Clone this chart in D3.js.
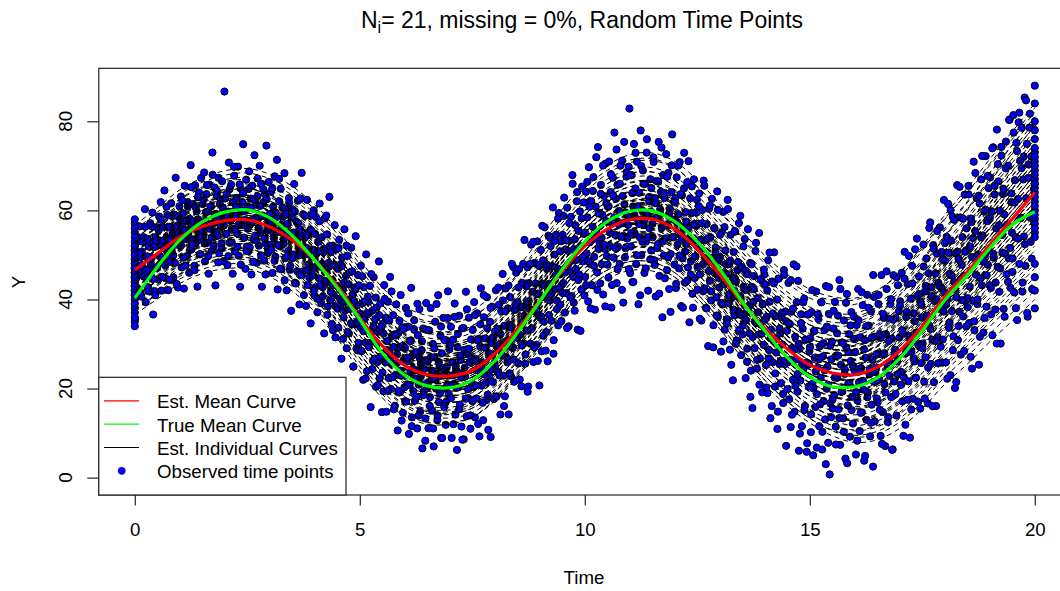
<!DOCTYPE html>
<html><head><meta charset="utf-8">
<script src="https://cdn.jsdelivr.net/npm/d3@7"></script>
<style>body{margin:0;background:#fff}svg{display:block}text{font-family:"Liberation Sans",Arial,sans-serif;fill:#000}</style>
</head><body><svg id="chart" width="1060" height="591"></svg>
<script>
const xTicks=[0,5,10,15,20];
const yTicks=[0,20,40,60,80];
const meanTimes=[0,0.5,1,1.5,2,2.5,3,3.5,4,4.5,5,5.5,6,6.5,7,7.5,8,8.5,9,9.5,10,10.5,11,11.5,12,12.5,13,13.5,14,14.5,15,15.5,16,16.5,17,17.5,18,18.5,19,19.5,20];
const estMean=[46.6,50.3,54.0,56.4,57.7,57.9,56.3,53.3,48.8,43.0,35.9,29.6,25.2,23.1,22.8,24.1,27.8,33.3,39.8,46.4,52.0,55.8,57.9,58.0,55.8,51.3,45.6,39.2,33.5,28.9,25.3,23.5,23.1,24.8,28.5,34.0,40.6,46.2,52.3,58.1,64.0];
const trueMean=[40.3,47.3,53.3,57.4,59.6,60.1,58.3,54.3,48.8,42.6,35.5,28.0,23.0,20.6,20.2,21.9,26.2,32.5,39.6,46.8,53.0,57.5,59.8,59.9,57.5,53.0,46.8,39.5,33.0,27.0,22.6,20.4,20.4,22.4,26.8,33.0,39.8,45.4,51.5,56.8,59.7];
const knotTimes=[0,5,10,15,20];
const curveOffsets=[
[-9,-11,-10,-12,-22],[8,11,13,15,19],[-4,-5,-4,-5,-8],[3,4,5,6,9],[0,1,1,2,3],
[-2,-2,-3,-3,-5],[6,8,9,11,15],[-6,-7,-7,-9,-14],[2,2,2,3,5],[-1,0,0,-1,-2],
[5,6,6,8,12],[-7,-9,-8,-10,-17],[1,3,4,4,6],[-3,-4,-5,-6,-10],[4,3,2,3,4],
[-5,-3,-2,-2,-3],[9,12,12,16,20],[-8,-10,-11,-13,-24],[2,5,7,9,14],[-3,-1,0,1,2],
[7,7,8,9,11],[-10,-12,-9,-11,-18],[1,-1,-2,-3,-6],[0,2,3,5,8],[4,6,8,10,16],
[-4,-6,-6,-8,-13],[3,1,1,0,-1],[-2,0,2,3,6],[6,5,5,6,8],[-6,-5,-4,-5,-7],
[1,2,0,1,1],[-1,-3,-4,-4,-7],[5,9,10,12,17],[-5,-8,-9,-11,-19],[2,0,-1,-1,-3],
[0,-2,-1,0,1],[8,10,10,12,15],[-7,-6,-6,-7,-11],[3,5,4,6,10],[-2,-1,1,-2,-4],
[10,13,14,17,18],[-9,-8,-7,-9,-15],[1,1,3,2,4],[-3,-2,-2,-3,-6],[4,7,6,7,12],
[0,0,-1,-2,-3],[-4,-3,-3,-4,-9],[6,4,3,4,7],[2,3,5,7,11],[-1,-2,0,0,0],
[1,1,2,2,4],[-1,-1,-2,-2,-4],[2,3,3,4,7],[-2,-3,-3,-4,-8],[0,1,2,3,5],
[0,-1,-1,-2,-5],[3,2,3,4,6],[-3,-2,-1,-1,-2],[1,0,1,2,2],[-1,1,1,0,-1],
[4,5,5,7,10],[-4,-5,-5,-6,-12],[2,1,0,-1,-2],[-2,-1,0,2,3],[5,4,4,5,7],
[-5,-6,-6,-7,-10],[1,2,3,5,9],[-1,-2,-3,-5,-9],[3,4,3,3,4],[-3,-3,-4,-4,-5],
[0,0,1,1,2],[0,0,-1,-1,-1],[6,7,7,9,13],[-6,-8,-8,-9,-16],[2,2,1,1,1],
[-2,-2,-1,-1,-1],[7,9,11,13,17],[-8,-9,-10,-12,-20],[4,3,4,5,8],[-4,-4,-3,-3,-6]];
const binWidth=0.5;
const residualBins=[
[-11,4,-2,7,0,-5,9,2,-7,3,-1,6,-3,12,-9,1,5,-6,3,-2,8,-4,0,10,-13,2,-8,4,-3,6],
[3,-6,8,-1,11,-9,1,5,-3,13,0,-7,2,7,-10,0,4,-4,9,-2,2,-8,6,-5,14,-1,3,-11,1,7],
[-2,9,-7,2,5,-12,11,-1,3,-5,7,0,-9,3,15,-4,1,6,-2,-8,10,-3,4,-13,2,8,-6,0,11,-3],
[5,-2,12,-8,1,7,-4,3,-11,9,-1,4,-6,16,0,-3,8,-14,2,6,-3,10,-7,4,-1,-5,9,1,-9,29],
[5,-3,6,-10,2,13,-5,0,8,-2,-12,4,10,-7,1,5,-3,12,-8,3,-15,7,-1,4,17,-4,2,-11,9,-6],
[3,-7,11,-1,5,-12,8,0,-4,15,-3,4,-9,6,1,-5,13,-2,9,-14,2,5,-8,7,-4,18,-1,-6,10,0],
[-4,8,1,-10,5,-2,12,-6,3,16,-13,0,7,-3,10,-8,2,4,-1,14,-5,6,-12,3,-3,9,-7,1,-16,5],
[7,-3,13,-9,2,5,-6,10,0,-13,4,-1,17,-5,8,-10,3,1,-4,12,-7,5,-2,9,-15,6,-4,2,11,-8],
[-6,10,2,-11,5,-3,14,0,-8,7,-4,4,-14,12,1,-2,9,-7,3,18,-5,6,-10,-1,8,-3,13,-12,4,0],
[4,-9,11,-2,6,-15,8,1,-5,15,-3,5,-11,10,0,-7,7,-1,13,-4,3,-13,5,-3,17,-8,2,9,-6,-1],
[-2,12,-7,4,-13,8,1,-4,16,-10,3,6,-3,10,-17,0,5,-6,13,-1,4,-11,7,-5,2,18,-8,9,-3,-15],
[5,-10,14,-3,7,-14,2,11,-6,0,17,-8,4,-2,9,-12,5,-4,12,-1,-16,6,3,-7,15,-3,8,-11,1,-5],
[-8,13,1,-4,9,-15,6,-1,18,-11,3,-5,11,-7,4,0,-13,8,-3,14,-9,2,5,-17,10,-4,3,-10,16,-2],
[3,-12,10,-5,15,-1,-8,7,-16,4,12,-3,0,-10,18,-6,2,9,-14,5,-3,13,-7,1,-11,8,-2,19,-4,6],
[-5,11,-14,3,8,-2,16,-9,1,-17,6,-3,13,-7,3,-12,10,0,-15,5,-1,18,-10,4,-6,12,2,-13,7,-3],
[9,-4,15,-11,2,-7,12,-1,6,-16,4,17,-5,0,-13,10,-3,5,-9,14,-8,1,-4,8,-18,3,11,-6,4,-2],
[-3,14,-10,5,-5,10,1,-15,8,-2,16,-7,4,-12,12,0,-4,7,-17,3,9,-9,2,-3,15,-6,5,-11,13,-1],
[6,-8,13,-2,4,-14,9,0,-5,18,-10,3,-3,11,-16,7,1,-7,15,-4,4,-12,10,-1,5,-9,14,2,-3,-19],
[-4,11,-12,3,8,-6,15,-1,-9,5,-16,12,1,-3,9,-8,4,17,-13,6,-2,10,-5,2,-11,14,0,-7,7,-3],
[8,-3,16,-10,4,-6,13,0,-14,5,-2,10,-8,19,-4,2,-12,7,-1,12,-17,5,-5,9,1,-9,14,-3,3,-11],
[-7,12,-2,6,-13,17,0,-5,9,-10,3,14,-4,-16,7,1,-8,20,-3,5,-11,11,-1,4,-14,8,-4,15,2,-6],
[5,-11,15,-4,8,-18,1,11,-7,21,-2,6,-13,9,-5,3,-9,13,0,-15,6,-3,18,-8,2,10,-4,-1,12,25],
[-12,-6,10,-14,3,17,-3,7,-10,13,0,-19,6,-4,20,-8,2,11,-1,-12,8,-5,15,1,-16,5,-2,9,-7,4],
[-4,14,-9,5,-17,9,1,-5,18,-12,3,7,-1,-21,11,-7,6,-3,16,-10,0,12,-14,4,-6,8,21,-2,2,-8],
[7,-13,12,-3,4,-8,16,0,-16,9,-5,2,19,-10,6,-1,13,-6,3,-18,10,-4,7,-11,1,15,-7,-2,5,11],
[-9,6,13,-5,1,-15,10,-2,17,-7,4,-11,8,0,-19,12,-4,6,-8,15,2,-13,9,-1,5,-6,18,-10,3,-3],
[4,-17,10,-6,15,-1,-11,7,2,-8,19,-4,5,-14,12,-2,0,-20,9,-5,14,3,-10,6,-3,17,-7,1,-12,8],
[-5,13,-2,8,-16,4,-9,18,1,-5,11,-13,6,-21,3,9,-7,15,-1,-11,5,-3,20,-8,0,10,-15,5,-4,12],
[10,-8,3,-14,16,-4,7,-19,1,12,-6,-1,19,-11,5,-3,9,-16,14,-5,2,-9,6,0,-13,17,-4,8,-22,4],
[-3,15,-11,6,-17,9,1,-6,20,-13,4,-1,12,-8,17,-21,2,-5,10,-15,7,-2,14,-10,5,0,-18,11,-5,3],
[6,-15,12,-4,-20,8,2,-9,17,-6,0,11,-13,5,-2,15,-18,3,-7,9,-11,19,-4,1,-16,13,-23,6,-10,7],
[-8,10,-5,16,-12,4,-1,13,-8,21,-16,2,7,-4,-10,12,0,-19,6,18,-7,-2,9,-14,3,14,-5,-11,8,1],
[5,-18,11,-6,19,-2,-13,8,1,-9,15,-4,-20,7,3,-11,17,-5,10,-1,-15,13,-8,2,21,-3,-12,7,0,-7],
[-8,14,-3,7,-16,20,2,-11,10,-5,-19,6,16,-1,-13,9,-4,12,-9,4,-21,18,-6,1,8,-14,-2,15,-5,3],
[11,-5,17,-12,3,-7,21,-18,6,-1,13,-9,1,-22,9,-3,16,-14,5,-6,19,-10,0,8,-16,12,-4,6,-8,2],
[-4,18,-13,7,-8,14,0,-19,10,-2,21,-11,4,-6,15,-16,2,8,-22,12,-7,5,-1,17,-10,3,-14,9,-3,1],
[8,-15,13,-1,20,-8,4,-19,11,-5,16,-11,1,-23,7,-3,22,-13,5,-7,14,-17,3,9,-9,0,18,-6,-12,5],
[-6,19,-12,5,-20,10,2,-8,23,-15,7,-3,14,-10,1,-24,12,-5,17,-7,4,-18,9,-1,21,-13,6,-4,13,-9],
[15,-10,7,-21,21,-4,10,-16,2,24,-7,12,-13,5,-25,17,-1,8,-18,3,-6,19,-11,0,13,-8,23,-15,6,-3],
[-9,23,-17,8,-5,16,-24,3,20,-12,11,-2,18,-19,6,-7,24,-14,1,13,-26,8,-4,19,-10,9,-21,15,-6,2]];
const residualBinsB=[
[2,-4,6,-1,3,-6,0,5,-3,8,-2,1,-7,4,-1,7,-5,2,-9,3],
[-3,5,-1,7,-6,2,0,-4,9,-2,4,-8,1,6,-3,3,-1,-10,5,0],
[4,-2,8,-5,1,-7,3,6,-1,-4,10,-3,2,-9,5,0,7,-2,-6,1],
[-1,6,-4,3,9,-7,0,4,-3,11,-5,2,-2,7,-9,1,5,-6,3,-1],
[5,-3,1,-8,7,0,-5,4,12,-2,3,-6,-1,8,-10,2,6,-4,0,-7],
[-2,7,-6,3,0,-9,5,1,-4,10,-1,4,-7,2,8,-3,-11,6,-5,1],
[3,-5,9,-1,-7,4,0,-3,12,-8,2,6,-2,-10,5,1,-4,8,-6,0],
[-4,2,7,-9,1,5,-2,11,-6,3,-1,8,-12,4,0,-5,6,-3,10,-7],
[6,-1,-8,3,10,-4,1,-6,5,-2,13,-9,2,7,-3,0,-11,4,-5,8],
[-5,9,0,-3,6,-10,3,-1,12,-7,4,1,-4,8,-13,2,5,-2,-8,7],
[1,-7,10,-2,5,-12,3,7,-4,0,13,-8,2,-5,9,-1,-10,6,-3,4],
[-6,3,11,-3,0,-9,7,-1,14,-5,2,-11,5,1,-7,9,-2,-13,4,8],
[4,-8,2,12,-4,6,-13,0,9,-2,-6,15,-10,3,-1,7,-5,1,-15,10],
[-3,10,-7,4,1,-12,6,-1,16,-9,3,-4,11,-14,0,8,-6,2,13,-2],
[7,-5,0,-11,13,2,-3,9,-8,4,-1,-15,10,1,-6,14,-4,5,-10,3],
[-7,2,12,-4,6,-13,0,9,-1,-9,15,3,-5,7,-16,1,11,-3,4,-10],
[5,-10,1,14,-6,3,-2,10,-14,7,0,-5,12,-8,2,16,-3,-11,6,-1],
[-2,9,-12,4,-5,13,1,-8,7,-17,3,11,-4,0,15,-9,5,-1,-13,8],
[8,-4,16,-9,2,-13,6,0,-6,11,-2,4,-16,9,1,-7,13,-3,5,-11],
[-5,12,-1,6,-14,3,9,-8,0,17,-10,4,-3,14,-6,1,-18,7,-2,10],
[3,-9,14,-4,8,-15,1,11,-6,0,18,-12,5,-2,9,-7,15,-3,-17,6],
[-8,5,-1,12,-13,7,2,-5,17,-10,0,9,-3,14,-18,4,-6,11,1,-11],
[10,-3,6,-14,1,15,-8,3,-1,-17,12,-5,8,0,-11,18,-4,4,-9,7],
[-1,13,-10,4,-6,9,-16,2,17,-4,7,-12,0,11,-7,3,-19,14,-2,6],
[6,-12,2,15,-5,9,-1,-16,11,-3,4,-9,18,1,-7,13,-14,5,-2,8],
[-4,10,-15,3,7,-8,16,0,-11,5,-2,13,-6,1,-18,9,4,-10,14,-1],
[9,-6,1,-14,12,4,-9,17,-2,6,-17,3,-4,14,-11,0,8,-7,19,-3],
[-7,4,15,-3,-12,8,1,-19,11,-5,6,-1,17,-9,2,-14,10,-2,5,13],
[2,-13,9,-6,18,-1,-16,5,12,-8,0,-20,14,3,-4,7,-11,16,-3,6],
[-9,6,-2,16,-14,10,1,-7,20,-4,3,-17,8,-1,13,-11,5,-20,11,0],
[4,-11,17,-5,8,-1,-18,12,2,-8,15,-14,6,0,-21,10,-3,19,-7,3],
[-6,14,-1,-16,9,4,-10,19,-4,7,-13,1,16,-20,5,-2,11,-8,2,13],
[8,-4,-15,12,1,-9,18,-2,5,-19,10,-6,14,0,-12,7,-22,16,-1,3],
[-3,16,-10,6,-18,11,2,-7,20,-14,4,-1,13,-21,8,0,-9,17,-5,9],
[10,-8,4,-20,15,-2,7,-13,19,0,-16,12,-5,3,-10,21,-3,8,-18,5],
[-5,13,-17,8,1,-11,20,-3,6,-21,14,-7,2,17,-13,4,-1,11,-9,22],
[12,-2,-19,9,-7,18,3,-14,15,-1,-22,7,-10,21,0,-5,13,-17,5,10],
[-8,17,-4,11,-23,6,-13,20,1,-9,14,-18,4,22,-2,-15,9,-6,16,-1],
[6,-16,21,-3,12,-10,-24,16,2,-8,19,-5,9,-20,13,0,-13,23,-6,4],
[-12,19,3,-21,14,-6,22,-2,9,-17,11,-9,23,-25,5,16,-4,-14,7,1]];
const obsAtStart=[46,51,38,44,49,55,42,47,35,52,45,40,57,48,43,50,37,46,53,41,49,34,47,44,56,39,51,45,48,42,54,36,50,46,43,58,47,41,52,45];
const obsAtEnd=[64,71,58,67,76,55,62,69,80,60,66,73,42,65,70,59,78,63,68,57,74,61,84,66,54,88,45,48,72,38,56];
const titleMain="N", titleSub="i", titleRest="= 21, missing = 0%, Random Time Points";
const legendLabels=["Est. Mean Curve","True Mean Curve","Est. Individual Curves","Observed time points"];
const legendColors=["#ff0000","#00ff00","#000000","#0000ff"];

const svg=d3.select("#chart");
const x=d3.scaleLinear().domain([-0.8,20.8]).range([98.8,1070.8]);
const y=d3.scaleLinear().domain([-3.9,91.9]).range([495,68.3]);
const estFn=d3.scaleLinear().domain(meanTimes).range(estMean);

const pts=[];
residualBins.forEach((arr,b)=>arr.forEach((r,j)=>{const t=b*binWidth+binWidth*(j+0.5)/arr.length;pts.push([t,estFn(t)+r]);}));
residualBinsB.forEach((arr,b)=>arr.forEach((r,j)=>{const t=b*binWidth+binWidth*(j+0.2)/arr.length;pts.push([t,estFn(t)+r]);}));
obsAtStart.forEach(v=>pts.push([0,v]));
obsAtEnd.forEach(v=>pts.push([20,v]));

const line=d3.line().x(d=>x(d[0])).y(d=>y(d[1])).curve(d3.curveCatmullRom);
const plot=svg.append("g");

plot.selectAll("circle.obs").data(pts).join("circle").attr("class","obs")
 .attr("cx",d=>x(d[0])).attr("cy",d=>y(d[1])).attr("r",3.6)
 .attr("fill","#0000ff").attr("stroke","#000").attr("stroke-width",1);

const indiv=curveOffsets.map(offs=>{const of=d3.scaleLinear().domain(knotTimes).range(offs);return meanTimes.map((t,k)=>[t,estMean[k]+of(t)]);});
plot.selectAll("path.ind").data(indiv).join("path").attr("class","ind")
 .attr("d",line).attr("fill","none").attr("stroke","#000").attr("stroke-width",1).attr("stroke-dasharray","5,4");

plot.append("path").datum(meanTimes.map((t,k)=>[t,estMean[k]])).attr("d",line)
 .attr("fill","none").attr("stroke","#ff0000").attr("stroke-width",3.2);
plot.append("path").datum(meanTimes.map((t,k)=>[t,trueMean[k]])).attr("d",line)
 .attr("fill","none").attr("stroke","#00ff00").attr("stroke-width",3.2);

svg.append("rect").attr("x",98.8).attr("y",68.3).attr("width",972).attr("height",426.7)
 .attr("fill","none").attr("stroke","#222").attr("stroke-width",1.2);

const xa=svg.append("g").attr("transform","translate(0,495)")
 .call(d3.axisBottom(x).tickValues(xTicks).tickSize(10.5).tickPadding(17.5).tickFormat(d3.format("d")));
xa.select(".domain").remove();
xa.selectAll("line").attr("stroke","#222").attr("stroke-width",1.2);
xa.selectAll("text").attr("font-size","18.7px").attr("font-family","Liberation Sans, Arial, sans-serif").attr("fill","#000");

const ya=svg.append("g").attr("transform","translate(98.8,0)")
 .call(d3.axisLeft(y).tickValues(yTicks).tickSize(11.5).tickFormat(""));
ya.select(".domain").remove();
ya.selectAll("line").attr("stroke","#222").attr("stroke-width",1.2);
svg.append("g").selectAll("text").data(yTicks).join("text")
 .attr("transform",d=>`translate(71.5,${y(d)}) rotate(-90)`).attr("text-anchor","middle")
 .attr("font-size","18.7px").text(d=>d);

const tt=svg.append("text").attr("x",582).attr("y",28.3).attr("text-anchor","middle").attr("font-size","23px");
tt.append("tspan").text(titleMain);
tt.append("tspan").attr("font-size","16px").attr("dy",5).text(titleSub);
tt.append("tspan").attr("dy",-5).text(titleRest);
svg.append("text").attr("x",584).attr("y",584).attr("text-anchor","middle").attr("font-size","18.7px").text("Time");
svg.append("text").attr("transform","translate(25,282) rotate(-90)").attr("text-anchor","middle").attr("font-size","18.7px").text("Y");

const lg=svg.append("g");
lg.append("rect").attr("x",98.8).attr("y",377.3).attr("width",247.2).attr("height",117.7)
 .attr("fill","#fff").attr("stroke","#222").attr("stroke-width",1.2);
const rowY=[400.9,424.2,447.5,470.8];
legendLabels.forEach((lab,i)=>{
 if(i<3){lg.append("line").attr("x1",104).attr("x2",139).attr("y1",rowY[i]).attr("y2",rowY[i]).attr("stroke",legendColors[i]).attr("stroke-width",1.2);}
 else{lg.append("circle").attr("cx",121.7).attr("cy",rowY[i]).attr("r",3.6).attr("fill",legendColors[i]).attr("stroke","#00008b").attr("stroke-width",0.6);}
 lg.append("text").attr("x",157).attr("y",rowY[i]+7.4).attr("font-size","18.7px").text(lab);
});
</script></body></html>
